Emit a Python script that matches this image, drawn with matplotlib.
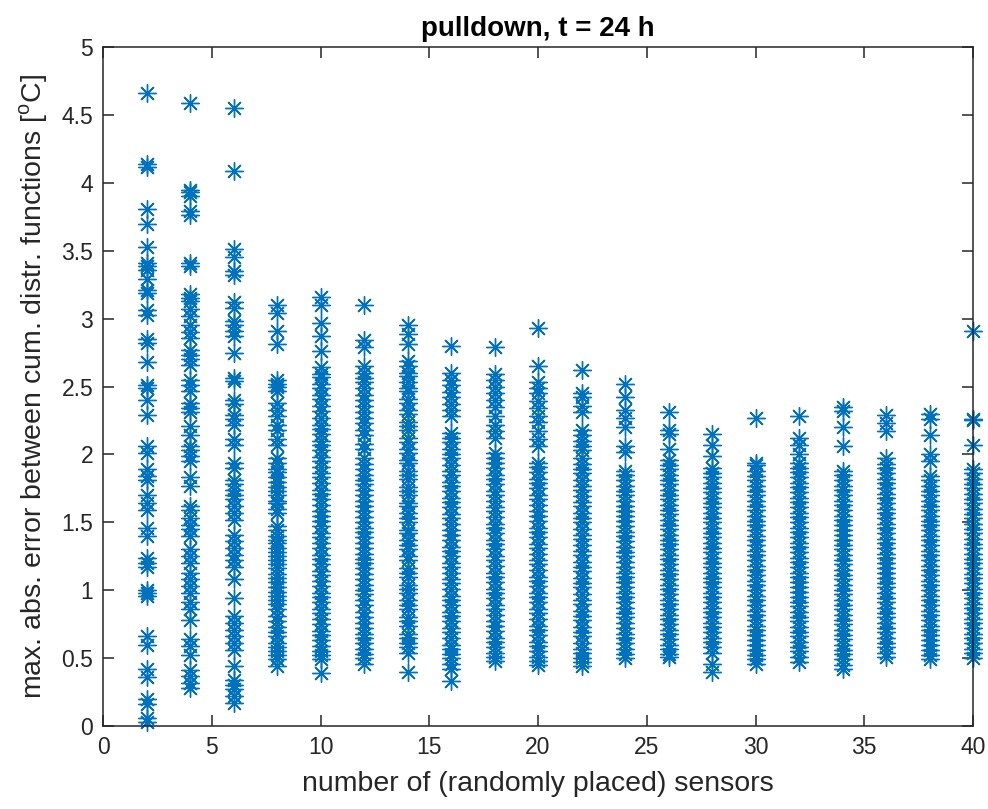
import numpy as np
import matplotlib
matplotlib.use("Agg")
import matplotlib.pyplot as plt

# number of sensors (x) and the max. abs. error read for each run (y)
n_sensors = [2, 4, 6, 8, 10, 12, 14, 16, 18, 20, 22, 24, 26, 28, 30, 32, 34, 36, 38, 40]

y02 = [4.66, 4.14, 4.12, 3.81, 3.70, 3.53, 3.41, 3.39, 3.36, 3.29, 3.21, 3.19, 3.06, 3.03,
       2.85, 2.82, 2.68, 2.51, 2.49, 2.40, 2.29, 2.06, 2.01, 1.89, 1.84, 1.81, 1.70, 1.64,
       1.59, 1.46, 1.40, 1.24, 1.20, 1.17, 1.00, 0.98, 0.96, 0.66, 0.60, 0.42, 0.36, 0.20,
       0.16, 0.06, 0.03]
y04 = [4.59, 3.95, 3.93, 3.90, 3.79, 3.76, 3.41, 3.39, 3.18, 3.15, 3.13, 3.07, 3.02, 2.95,
       2.90, 2.86, 2.77, 2.73, 2.70, 2.66, 2.55, 2.51, 2.47, 2.38, 2.34, 2.31, 2.21, 2.14,
       2.06, 2.03, 1.99, 1.95, 1.83, 1.77, 1.62, 1.59, 1.53, 1.48, 1.45, 1.40, 1.30, 1.25,
       1.20, 1.13, 1.08, 1.03, 0.98, 0.91, 0.86, 0.78, 0.64, 0.59, 0.52, 0.41, 0.37, 0.32,
       0.28]
y06 = [4.55, 4.09, 3.51, 3.45, 3.35, 3.32, 3.12, 3.08, 2.98, 2.95, 2.91, 2.87, 2.75, 2.56,
       2.54, 2.40, 2.37, 2.29, 2.26, 2.22, 2.11, 2.07, 1.94, 1.90, 1.81, 1.78, 1.74, 1.70,
       1.67, 1.62, 1.57, 1.52, 1.41, 1.36, 1.31, 1.26, 1.22, 1.17, 1.08, 0.94, 0.81, 0.76,
       0.71, 0.66, 0.61, 0.56, 0.44, 0.34, 0.30, 0.27, 0.22, 0.17]
y08 = [3.10, 3.04, 2.91, 2.81, 2.55, 2.52, 2.50, 2.47, 2.38, 2.33, 2.28, 2.22, 2.18, 2.11,
       2.07, 1.97, 1.94, 1.89, 1.87, 1.83, 1.80, 1.76, 1.73, 1.70, 1.66, 1.64, 1.60, 1.57,
       1.47, 1.44, 1.40, 1.37, 1.35, 1.31, 1.28, 1.25, 1.22, 1.19, 1.16, 1.12, 1.09, 1.06,
       1.02, 0.99, 0.96, 0.93, 0.90, 0.86, 0.81, 0.77, 0.73, 0.69, 0.66, 0.61, 0.58, 0.55,
       0.52, 0.49, 0.44]
y10 = [3.16, 3.10, 2.97, 2.87, 2.76, 2.64, 2.59, 2.57, 2.52, 2.49, 2.44, 2.41, 2.36, 2.32,
       2.27, 2.22, 2.19, 2.15, 2.10, 2.07, 2.03, 1.98, 1.95, 1.91, 1.86, 1.83, 1.79, 1.74,
       1.71, 1.67, 1.63, 1.58, 1.55, 1.51, 1.47, 1.42, 1.39, 1.35, 1.31, 1.26, 1.23, 1.19,
       1.14, 1.11, 1.07, 1.03, 0.98, 0.95, 0.91, 0.86, 0.83, 0.79, 0.75, 0.70, 0.67, 0.63,
       0.59, 0.55, 0.52, 0.49, 0.39]
y12 = [3.10, 2.84, 2.79, 2.65, 2.60, 2.56, 2.53, 2.49, 2.44, 2.40, 2.36, 2.31, 2.27, 2.23,
       2.18, 2.14, 2.08, 2.04, 1.97, 1.93, 1.89, 1.85, 1.81, 1.78, 1.74, 1.70, 1.66, 1.62,
       1.58, 1.54, 1.50, 1.46, 1.43, 1.39, 1.35, 1.31, 1.27, 1.23, 1.20, 1.16, 1.12, 1.08,
       1.04, 1.00, 0.97, 0.93, 0.89, 0.84, 0.80, 0.76, 0.72, 0.68, 0.65, 0.61, 0.57, 0.53,
       0.50, 0.46]
y14 = [2.95, 2.89, 2.81, 2.69, 2.65, 2.60, 2.58, 2.53, 2.49, 2.47, 2.41, 2.38, 2.33, 2.30,
       2.24, 2.21, 2.18, 2.12, 2.09, 2.04, 2.01, 1.96, 1.94, 1.88, 1.85, 1.82, 1.76, 1.73,
       1.70, 1.64, 1.62, 1.57, 1.53, 1.50, 1.44, 1.42, 1.37, 1.33, 1.30, 1.25, 1.22, 1.16,
       1.13, 1.10, 1.04, 1.01, 0.98, 0.93, 0.89, 0.86, 0.80, 0.77, 0.74, 0.68, 0.65, 0.61,
       0.58, 0.54, 0.40]
y16 = [2.80, 2.60, 2.55, 2.51, 2.46, 2.42, 2.37, 2.33, 2.28, 2.16, 2.12, 2.09, 2.04, 2.00,
       1.97, 1.92, 1.88, 1.85, 1.80, 1.77, 1.73, 1.68, 1.65, 1.61, 1.56, 1.53, 1.49, 1.44,
       1.41, 1.37, 1.32, 1.29, 1.25, 1.20, 1.17, 1.13, 1.08, 1.05, 1.01, 0.96, 0.93, 0.89,
       0.84, 0.81, 0.77, 0.72, 0.69, 0.65, 0.60, 0.57, 0.53, 0.50, 0.46, 0.42, 0.33]
y18 = [2.79, 2.59, 2.55, 2.50, 2.45, 2.40, 2.35, 2.28, 2.22, 2.17, 2.12, 2.01, 1.97, 1.94,
       1.90, 1.85, 1.82, 1.78, 1.73, 1.70, 1.66, 1.61, 1.58, 1.54, 1.49, 1.46, 1.42, 1.37,
       1.34, 1.30, 1.25, 1.22, 1.18, 1.13, 1.10, 1.06, 1.01, 0.98, 0.94, 0.89, 0.86, 0.82,
       0.77, 0.74, 0.70, 0.65, 0.62, 0.58, 0.54, 0.51, 0.48]
y20 = [2.93, 2.65, 2.53, 2.49, 2.45, 2.39, 2.34, 2.28, 2.24, 2.17, 2.11, 2.06, 1.94, 1.91,
       1.87, 1.82, 1.79, 1.75, 1.70, 1.67, 1.63, 1.58, 1.55, 1.51, 1.46, 1.43, 1.39, 1.34,
       1.31, 1.27, 1.22, 1.19, 1.15, 1.10, 1.07, 1.03, 0.98, 0.95, 0.91, 0.86, 0.83, 0.79,
       0.74, 0.71, 0.67, 0.62, 0.59, 0.55, 0.51, 0.48, 0.45]
y22 = [2.62, 2.45, 2.42, 2.36, 2.31, 2.18, 2.14, 2.10, 2.06, 2.03, 1.97, 1.93, 1.89, 1.86,
       1.81, 1.77, 1.74, 1.69, 1.65, 1.62, 1.57, 1.53, 1.50, 1.45, 1.41, 1.38, 1.33, 1.29,
       1.26, 1.21, 1.17, 1.14, 1.09, 1.05, 1.02, 0.97, 0.93, 0.90, 0.85, 0.81, 0.78, 0.73,
       0.69, 0.66, 0.61, 0.57, 0.54, 0.50, 0.47, 0.44]
y24 = [2.52, 2.42, 2.33, 2.27, 2.20, 2.06, 2.02, 1.88, 1.85, 1.81, 1.77, 1.73, 1.70, 1.66,
       1.62, 1.58, 1.55, 1.51, 1.47, 1.43, 1.40, 1.36, 1.32, 1.28, 1.25, 1.21, 1.17, 1.13,
       1.10, 1.06, 1.02, 0.98, 0.95, 0.91, 0.87, 0.83, 0.80, 0.76, 0.72, 0.68, 0.65, 0.61,
       0.57, 0.53, 0.50]
y26 = [2.31, 2.18, 2.15, 2.04, 1.96, 1.92, 1.89, 1.85, 1.81, 1.78, 1.74, 1.70, 1.67, 1.63,
       1.59, 1.56, 1.52, 1.48, 1.45, 1.41, 1.37, 1.34, 1.30, 1.26, 1.23, 1.19, 1.15, 1.12,
       1.08, 1.04, 1.01, 0.97, 0.93, 0.90, 0.86, 0.82, 0.79, 0.75, 0.71, 0.68, 0.64, 0.60,
       0.57, 0.53, 0.51]
y28 = [2.15, 2.07, 1.99, 1.90, 1.86, 1.83, 1.79, 1.75, 1.72, 1.68, 1.64, 1.61, 1.57, 1.53,
       1.50, 1.46, 1.42, 1.39, 1.35, 1.31, 1.28, 1.24, 1.20, 1.17, 1.13, 1.09, 1.06, 1.02,
       0.98, 0.95, 0.91, 0.87, 0.84, 0.80, 0.76, 0.73, 0.69, 0.65, 0.62, 0.58, 0.54, 0.46,
       0.40]
y30 = [2.27, 1.94, 1.92, 1.88, 1.84, 1.81, 1.77, 1.73, 1.70, 1.66, 1.62, 1.59, 1.55, 1.51,
       1.48, 1.44, 1.40, 1.37, 1.33, 1.29, 1.26, 1.22, 1.18, 1.15, 1.11, 1.07, 1.04, 1.00,
       0.96, 0.93, 0.89, 0.85, 0.82, 0.78, 0.74, 0.71, 0.67, 0.63, 0.60, 0.56, 0.52, 0.49,
       0.46]
y32 = [2.28, 2.12, 2.07, 2.00, 1.94, 1.90, 1.87, 1.83, 1.79, 1.76, 1.72, 1.68, 1.65, 1.61,
       1.57, 1.54, 1.50, 1.46, 1.43, 1.39, 1.35, 1.32, 1.28, 1.24, 1.21, 1.17, 1.13, 1.10,
       1.06, 1.02, 0.99, 0.95, 0.91, 0.88, 0.84, 0.80, 0.77, 0.73, 0.69, 0.66, 0.62, 0.58,
       0.55, 0.51, 0.47]
y34 = [2.35, 2.32, 2.20, 2.06, 1.88, 1.85, 1.81, 1.77, 1.74, 1.70, 1.66, 1.63, 1.59, 1.55,
       1.52, 1.48, 1.44, 1.41, 1.37, 1.33, 1.30, 1.26, 1.22, 1.19, 1.15, 1.11, 1.08, 1.04,
       1.00, 0.97, 0.93, 0.89, 0.86, 0.82, 0.78, 0.75, 0.71, 0.67, 0.64, 0.60, 0.56, 0.53,
       0.49, 0.45, 0.42]
y36 = [2.29, 2.23, 2.17, 1.97, 1.93, 1.90, 1.86, 1.82, 1.79, 1.75, 1.71, 1.68, 1.64, 1.60,
       1.57, 1.53, 1.49, 1.46, 1.42, 1.38, 1.35, 1.31, 1.27, 1.24, 1.20, 1.16, 1.13, 1.09,
       1.05, 1.02, 0.98, 0.94, 0.91, 0.87, 0.83, 0.80, 0.76, 0.72, 0.69, 0.65, 0.61, 0.58,
       0.54, 0.51]
y38 = [2.30, 2.26, 2.14, 2.00, 1.95, 1.84, 1.81, 1.77, 1.73, 1.70, 1.66, 1.62, 1.59, 1.55,
       1.51, 1.48, 1.44, 1.40, 1.37, 1.33, 1.29, 1.26, 1.22, 1.18, 1.15, 1.11, 1.07, 1.04,
       1.00, 0.96, 0.93, 0.89, 0.85, 0.82, 0.78, 0.74, 0.71, 0.67, 0.63, 0.60, 0.56, 0.52,
       0.49]
y40 = [2.91, 2.26, 2.25, 2.07, 1.89, 1.86, 1.82, 1.78, 1.75, 1.71, 1.67, 1.64, 1.60, 1.56,
       1.53, 1.49, 1.45, 1.42, 1.38, 1.34, 1.31, 1.27, 1.23, 1.20, 1.16, 1.12, 1.09, 1.05,
       1.01, 0.98, 0.94, 0.90, 0.87, 0.83, 0.79, 0.76, 0.72, 0.68, 0.65, 0.61, 0.57, 0.54,
       0.50]

errors = [y02, y04, y06, y08, y10, y12, y14, y16, y18, y20,
          y22, y24, y26, y28, y30, y32, y34, y36, y38, y40]

x_ticks = [0, 5, 10, 15, 20, 25, 30, 35, 40]
y_ticks = [0, 0.5, 1, 1.5, 2, 2.5, 3, 3.5, 4, 4.5, 5]

plt.rcParams['font.family'] = ['Liberation Sans', 'DejaVu Sans']
plt.rcParams['mathtext.fontset'] = 'custom'
plt.rcParams['mathtext.rm'] = 'Liberation Sans'

fig = plt.figure(figsize=(9.88, 8.09), dpi=100, facecolor='white')
ax = fig.add_axes([103 / 988, 1 - 726 / 809, 870 / 988, 679 / 809])

for n, ys in zip(n_sensors, errors):
    ax.plot(np.full(len(ys), n), ys, linestyle='none', marker=(8, 2, 0),
            markersize=13, markeredgewidth=1.0, color='#0072BD', clip_on=False)

ax.set_xlim(0, 40)
ax.set_ylim(0, 5)
ax.set_xticks(x_ticks)
ax.set_yticks(y_ticks)
ax.set_yticklabels([f'{t:g}' for t in y_ticks])

dark = '#262626'
for s in ax.spines.values():
    s.set_color(dark)
    s.set_linewidth(1.1)
ax.tick_params(direction='in', length=8, width=1.1, colors=dark,
               top=True, right=True, labelsize=16.5, pad=7)

ax.set_xlabel('number of (randomly placed) sensors', fontsize=20.5, color=dark, labelpad=9)
ax.set_ylabel(r'max. abs. error between cum. distr. functions [$^{\rm o}$C]',
              fontsize=20.5, color=dark, labelpad=8)
ax.set_title('pulldown, t = 24 h', fontsize=20, fontweight='bold', color='black', pad=8)

fig.savefig('out.png', dpi=100, facecolor='white')
